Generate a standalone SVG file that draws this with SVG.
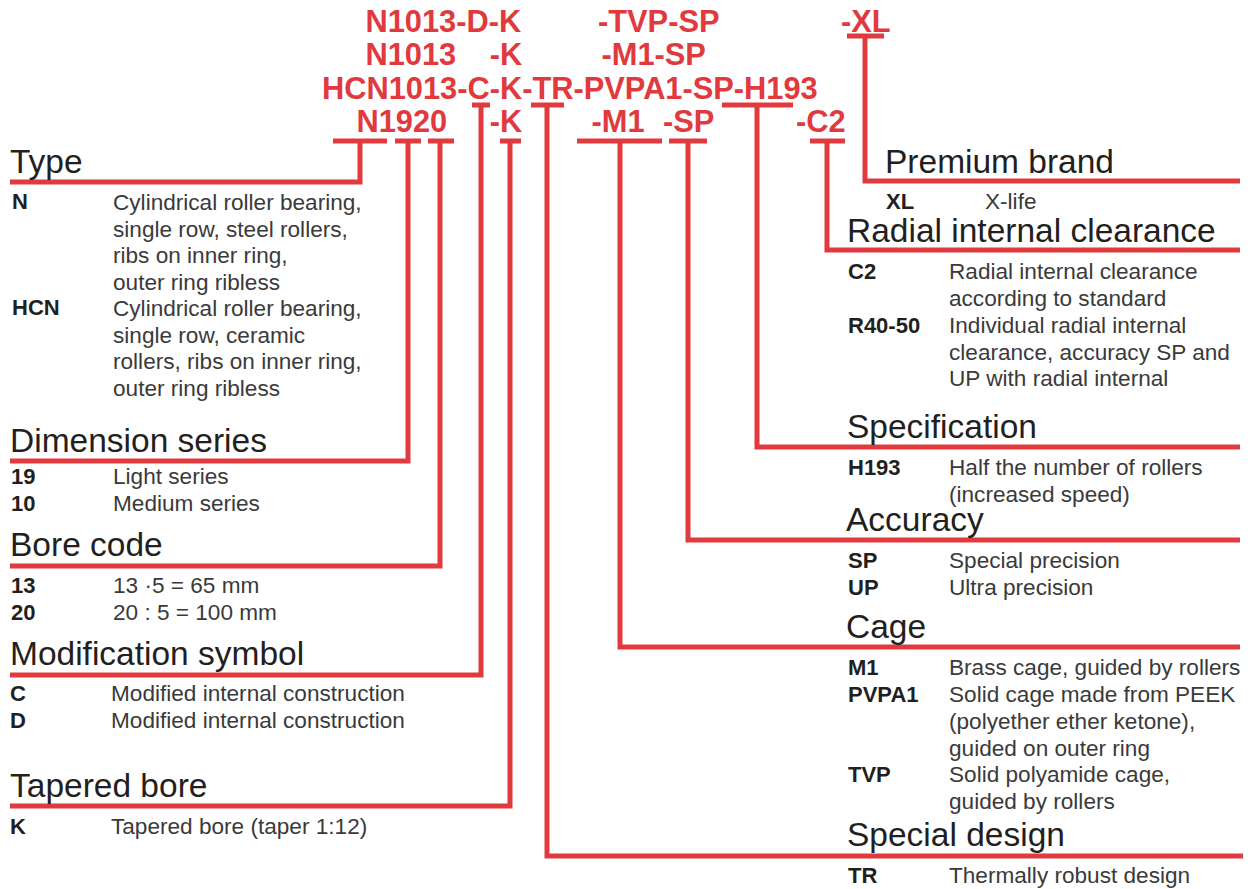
<svg xmlns="http://www.w3.org/2000/svg" width="1253" height="889" viewBox="0 0 1253 889">
<style>
.hdr{font-family:"Liberation Sans",Arial,sans-serif;font-weight:bold;font-size:30.8px;fill:#e03a3e}
.ttl{font-family:"Liberation Sans",Arial,sans-serif;font-size:33.5px;fill:#231f20}
.code{font-family:"Liberation Sans",Arial,sans-serif;font-weight:bold;font-size:22px;fill:#231f20}
.txt{font-family:"Liberation Sans",Arial,sans-serif;font-size:22.6px;fill:#3a3a3a}
.con path{fill:none;stroke:#e03a3e;stroke-width:5;stroke-linejoin:miter;stroke-linecap:butt}
</style>
<rect width="1253" height="889" fill="#ffffff"/>
<g id="header">
<text class="hdr" x="365.5" y="32">N1013-D-K</text>
<text class="hdr" x="598" y="32">-TVP-SP</text>
<text class="hdr" x="841" y="32">-XL</text>
<text class="hdr" x="365.5" y="65">N1013</text>
<text class="hdr" x="489.7" y="65">-K</text>
<text class="hdr" x="601.5" y="65">-M1-SP</text>
<text class="hdr" x="322" y="99">HCN1013-C-K-TR-PVPA1-SP-H193</text>
<text class="hdr" x="356.5" y="132">N1920</text>
<text class="hdr" x="489.7" y="132">-K</text>
<text class="hdr" x="591.5" y="132">-M1</text>
<text class="hdr" x="663" y="132">-SP</text>
<text class="hdr" x="796" y="132">-C2</text>
</g>
<g id="connectors" class="con">
<path d="M333,141H387M360,141V182H10"/>
<path d="M395,141H421M408,141V461H10"/>
<path d="M428,141H454M440,141V566H10"/>
<path d="M472,105H490M481,105V675H10"/>
<path d="M500,141H521M510,141V806H10"/>
<path d="M531,105H564M547,105V856H1243"/>
<path d="M577,141H662M620,141V647H1240"/>
<path d="M669,141H707M688,141V540H1240"/>
<path d="M722,105H793M757,105V447H1240"/>
<path d="M810,141H845M827,141V250H1240"/>
<path d="M847,36H884M865,36V181H1240"/>
</g>
<g id="type">
<text class="ttl" x="10" y="173">Type</text>
<text class="code" x="12" y="209">N</text>
<text class="txt" x="113" y="210">Cylindrical roller bearing,</text>
<text class="txt" x="113" y="237">single row, steel rollers,</text>
<text class="txt" x="113" y="263">ribs on inner ring,</text>
<text class="txt" x="113" y="290">outer ring ribless</text>
<text class="code" x="12" y="315">HCN</text>
<text class="txt" x="113" y="316">Cylindrical roller bearing,</text>
<text class="txt" x="113" y="343">single row, ceramic</text>
<text class="txt" x="113" y="369">rollers, ribs on inner ring,</text>
<text class="txt" x="113" y="396">outer ring ribless</text>
</g>
<g id="dimension-series">
<text class="ttl" x="10" y="452">Dimension series</text>
<text class="code" x="11" y="484">19</text>
<text class="txt" x="113" y="484">Light series</text>
<text class="code" x="11" y="511">10</text>
<text class="txt" x="113" y="511">Medium series</text>
</g>
<g id="bore-code">
<text class="ttl" x="10" y="556">Bore code</text>
<text class="code" x="11" y="593">13</text>
<text class="txt" x="113" y="593">13 ·5 = 65 mm</text>
<text class="code" x="11" y="620">20</text>
<text class="txt" x="113" y="620">20 : 5 = 100 mm</text>
</g>
<g id="modification-symbol">
<text class="ttl" x="10" y="665">Modification symbol</text>
<text class="code" x="10" y="701">C</text>
<text class="txt" x="111" y="701">Modified internal construction</text>
<text class="code" x="10" y="728">D</text>
<text class="txt" x="111" y="728">Modified internal construction</text>
</g>
<g id="tapered-bore">
<text class="ttl" x="10" y="797">Tapered bore</text>
<text class="code" x="10" y="834">K</text>
<text class="txt" x="111" y="834">Tapered bore (taper 1:12)</text>
</g>
<g id="premium-brand">
<text class="ttl" x="885" y="173">Premium brand</text>
<text class="code" x="886" y="209">XL</text>
<text class="txt" x="985" y="209">X-life</text>
</g>
<g id="radial-internal-clearance">
<text class="ttl" x="847" y="242">Radial internal clearance</text>
<text class="code" x="848" y="279">C2</text>
<text class="txt" x="949" y="279">Radial internal clearance</text>
<text class="txt" x="949" y="306">according to standard</text>
<text class="code" x="848" y="333">R40-50</text>
<text class="txt" x="949" y="333">Individual radial internal</text>
<text class="txt" x="949" y="360">clearance, accuracy SP and</text>
<text class="txt" x="949" y="386">UP with radial internal</text>
</g>
<g id="specification">
<text class="ttl" x="847" y="438">Specification</text>
<text class="code" x="848" y="475">H193</text>
<text class="txt" x="949" y="475">Half the number of rollers</text>
<text class="txt" x="949" y="502">(increased speed)</text>
</g>
<g id="accuracy">
<text class="ttl" x="846" y="531">Accuracy</text>
<text class="code" x="848" y="568">SP</text>
<text class="txt" x="949" y="568">Special precision</text>
<text class="code" x="848" y="595">UP</text>
<text class="txt" x="949" y="595">Ultra precision</text>
</g>
<g id="cage">
<text class="ttl" x="846" y="638">Cage</text>
<text class="code" x="848" y="675">M1</text>
<text class="txt" x="949" y="675">Brass cage, guided by rollers</text>
<text class="code" x="848" y="702">PVPA1</text>
<text class="txt" x="949" y="702">Solid cage made from PEEK</text>
<text class="txt" x="949" y="729">(polyether ether ketone),</text>
<text class="txt" x="949" y="756">guided on outer ring</text>
<text class="code" x="848" y="782">TVP</text>
<text class="txt" x="949" y="782">Solid polyamide cage,</text>
<text class="txt" x="949" y="809">guided by rollers</text>
</g>
<g id="special-design">
<text class="ttl" x="847" y="846">Special design</text>
<text class="code" x="848" y="883">TR</text>
<text class="txt" x="949" y="883">Thermally robust design</text>
</g>
</svg>
